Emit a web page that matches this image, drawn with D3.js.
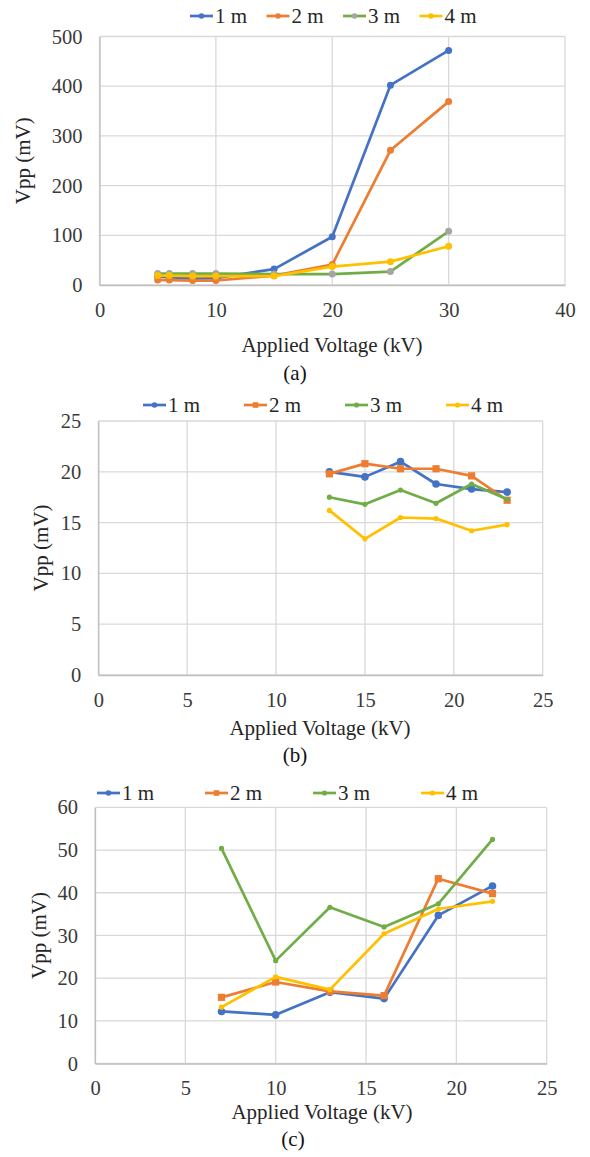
<!DOCTYPE html>
<html>
<head>
<meta charset="utf-8">
<script src="https://cdn.jsdelivr.net/npm/d3@7"></script>
<style>
  html, body { margin: 0; padding: 0; background: #fff; }
</style>
</head>
<body>
<svg id="fig" width="590" height="1157"></svg>
<script>
// ---- data ----
const seriesNames = ["1 m", "2 m", "3 m", "4 m"];

// (a) Vpp versus applied voltage
const voltsA = [5, 6, 8, 10, 15, 20, 25, 30];
const vppA1m = [17, 16, 13, 14, 32, 97, 402, 472];
const vppA2m = [10, 10, 9, 9, 19, 41, 271, 369];
const vppA3m = [23, 23, 23, 23, 22, 22, 27, 108];
const vppA4m = [19, 19, 18, 18, 18, 37, 47, 78];
const xTicksA = [0, 10, 20, 30, 40];
const yTicksA = [0, 100, 200, 300, 400, 500];

// (b)
const voltsB = [13, 15, 17, 19, 21, 23];
const vppB1m = [20.0, 19.5, 21.0, 18.8, 18.3, 18.0];
const vppB2m = [19.8, 20.8, 20.3, 20.3, 19.6, 17.2];
const vppB3m = [17.5, 16.8, 18.2, 16.9, 18.8, 17.3];
const vppB4m = [16.2, 13.4, 15.5, 15.4, 14.2, 14.8];
const xTicksB = [0, 5, 10, 15, 20, 25];
const yTicksB = [0, 5, 10, 15, 20, 25];

// (c)
const voltsC = [7, 10, 13, 16, 19, 22];
const vppC1m = [12.2, 11.4, 16.7, 15.2, 34.7, 41.6];
const vppC2m = [15.5, 19.1, 16.9, 15.9, 43.3, 39.8];
const vppC3m = [50.4, 24.1, 36.6, 32.0, 37.4, 52.5];
const vppC4m = [13.2, 20.3, 17.3, 30.4, 36.2, 38.0];
const xTicksC = [0, 5, 10, 15, 20, 25];
const yTicksC = [0, 10, 20, 30, 40, 50, 60];

// ---- styling ----
const BLUE = "#4472C4", ORANGE = "#ED7D31", GREEN = "#70AD47", GRAY = "#A5A5A5", GOLD = "#FFC000";
const FONT = "Liberation Serif";
const svg = d3.select("#fig");

function marker(g, shape, color, x, y, size) {
  if (shape === "square") {
    g.append("rect").attr("x", x - size).attr("y", y - size)
      .attr("width", size * 2).attr("height", size * 2).attr("fill", color);
  } else {
    g.append("circle").attr("cx", x).attr("cy", y).attr("r", size).attr("fill", color);
  }
}

function label(g, txt, size, color) {
  return g.append("text").attr("font-family", FONT).attr("font-size", size)
    .attr("fill", color).text(txt);
}

function drawPanel(p) {
  const x = d3.scaleLinear().domain(p.xDomain).range([p.left, p.right]);
  const y = d3.scaleLinear().domain(p.yDomain).range([p.bottom, p.top]);
  const g = svg.append("g");

  // gridlines
  g.append("g").selectAll("line").data(p.yTicks).join("line")
    .attr("x1", p.left).attr("x2", p.right)
    .attr("y1", d => y(d)).attr("y2", d => y(d))
    .attr("stroke", "#d9d9d9").attr("stroke-width", 1.3);
  g.append("g").selectAll("line").data(p.xTicks).join("line")
    .attr("x1", d => x(d)).attr("x2", d => x(d))
    .attr("y1", p.top).attr("y2", p.bottom)
    .attr("stroke", "#d9d9d9").attr("stroke-width", 1.3);

  // axes
  const ax = g.append("g").attr("transform", `translate(0,${p.bottom})`)
    .call(d3.axisBottom(x).tickValues(p.xTicks).tickSize(0).tickPadding(17));
  const ay = g.append("g").attr("transform", `translate(${p.left},0)`)
    .call(d3.axisLeft(y).tickValues(p.yTicks).tickSize(0).tickPadding(17));
  [ax, ay].forEach(a => {
    a.attr("font-family", FONT).attr("font-size", 20.5);
    a.select(".domain").attr("stroke", "#bfbfbf").attr("stroke-width", 1.3);
    a.selectAll("text").attr("font-family", FONT).attr("font-size", 20.5).attr("fill", "#3a3a3a");
  });

  // series
  p.series.forEach(s => {
    const pts = p.volts.map((v, i) => [x(v), y(s.values[i])]);
    g.append("path").attr("d", d3.line()(pts))
      .attr("fill", "none").attr("stroke", s.line).attr("stroke-width", 2.7)
      .attr("stroke-linejoin", "round");
    const mg = g.append("g");
    pts.forEach(pt => marker(mg, s.shape, s.mark, pt[0], pt[1], s.size));
  });

  // axis titles and caption
  label(g, "Applied Voltage (kV)", 21, "#262626")
    .attr("x", p.titleX).attr("y", p.titleY).attr("text-anchor", "middle");
  label(g, "Vpp (mV)", 21, "#262626")
    .attr("transform", `translate(${p.yTitleX},${(p.top + p.bottom) / 2}) rotate(-90)`)
    .attr("text-anchor", "middle");
  label(g, p.caption, 21, "#111")
    .attr("x", p.captionX).attr("y", p.captionY).attr("text-anchor", "middle");

  // legend
  const lg = g.append("g");
  p.series.forEach((s, i) => {
    const lx = p.legendX + i * p.legendStep;
    lg.append("line").attr("x1", lx).attr("x2", lx + 23)
      .attr("y1", p.legendY).attr("y2", p.legendY)
      .attr("stroke", s.line).attr("stroke-width", 2.7);
    marker(lg, s.shape, s.mark, lx + 11.5, p.legendY, Math.min(s.size, 2.8));
    label(lg, seriesNames[i], 21, "#262626")
      .attr("x", lx + 25).attr("y", p.legendY + 7);
  });
}

drawPanel({
  xDomain: [0, 40], yDomain: [0, 500], left: 99.5, right: 565, top: 36.5, bottom: 285,
  xTicks: xTicksA, yTicks: yTicksA, volts: voltsA,
  series: [
    { values: vppA1m, line: BLUE, mark: BLUE, shape: "circle", size: 3.5 },
    { values: vppA2m, line: ORANGE, mark: ORANGE, shape: "circle", size: 3.5 },
    { values: vppA3m, line: GREEN, mark: GRAY, shape: "circle", size: 3.5 },
    { values: vppA4m, line: GOLD, mark: GOLD, shape: "circle", size: 3.5 }
  ],
  titleX: 332, titleY: 352, yTitleX: 30, captionX: 295, captionY: 380, caption: "(a)",
  legendX: 190, legendStep: 76.5, legendY: 16
});

drawPanel({
  xDomain: [0, 25], yDomain: [0, 25], left: 98.3, right: 542.7, top: 421, bottom: 675,
  xTicks: xTicksB, yTicks: yTicksB, volts: voltsB,
  series: [
    { values: vppB1m, line: BLUE, mark: BLUE, shape: "circle", size: 3.8 },
    { values: vppB2m, line: ORANGE, mark: ORANGE, shape: "square", size: 3.6 },
    { values: vppB3m, line: GREEN, mark: GREEN, shape: "circle", size: 2.6 },
    { values: vppB4m, line: GOLD, mark: GOLD, shape: "circle", size: 2.6 }
  ],
  titleX: 320, titleY: 735, yTitleX: 48, captionX: 295, captionY: 762, caption: "(b)",
  legendX: 143, legendStep: 101, legendY: 405
});

drawPanel({
  xDomain: [0, 25], yDomain: [0, 60], left: 95, right: 546.7, top: 807.4, bottom: 1063.5,
  xTicks: xTicksC, yTicks: yTicksC, volts: voltsC,
  series: [
    { values: vppC1m, line: BLUE, mark: BLUE, shape: "circle", size: 3.8 },
    { values: vppC2m, line: ORANGE, mark: ORANGE, shape: "square", size: 3.6 },
    { values: vppC3m, line: GREEN, mark: GREEN, shape: "circle", size: 2.6 },
    { values: vppC4m, line: GOLD, mark: GOLD, shape: "circle", size: 2.6 }
  ],
  titleX: 322, titleY: 1119, yTitleX: 46, captionX: 293, captionY: 1146, caption: "(c)",
  legendX: 97, legendStep: 108, legendY: 793
});
</script>
</body>
</html>
